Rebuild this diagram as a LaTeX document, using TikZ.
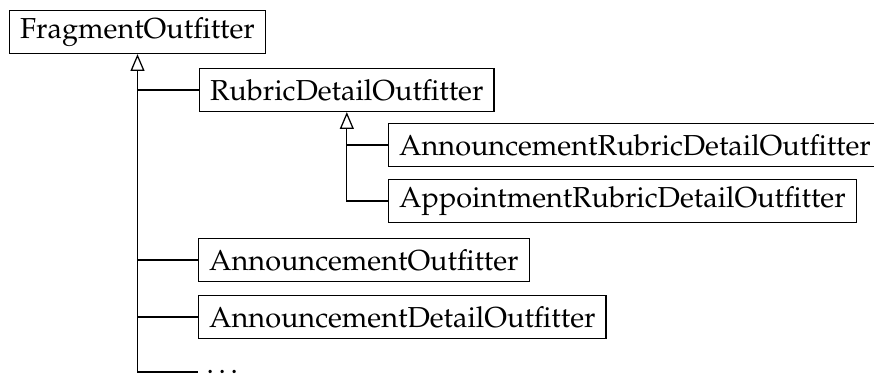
\documentclass[tikz,border=0pt]{standalone}
\usepackage[T1]{fontenc}
\usepackage{mathpazo}
\usetikzlibrary{arrows.meta}
\begin{document}
\begin{tikzpicture}[x=0.36pt,y=-0.36pt,
  box/.style={draw, line width=0.45pt, anchor=west, minimum height=15.5pt, inner xsep=3.8pt, inner ysep=0pt, font=\fontsize{10.4}{12}\selectfont},
  link/.style={line width=0.45pt},
  inh/.style={line width=0.45pt, -{Triangle[open, length=6pt, width=5pt]}}]
\useasboundingbox (0,0) rectangle (874,374);
\node[box] (frag) at (9,32) {FragmentOutfitter};
\node[box] (rubric) at (199,90) {RubricDetailOutfitter};
\node[box] (arub) at (388,145) {AnnouncementRubricDetailOutfitter};
\node[box] (apprub) at (388,201) {AppointmentRubricDetailOutfitter};
\node[box] (ann) at (198,260) {AnnouncementOutfitter};
\node[box] (anndet) at (198,317) {AnnouncementDetailOutfitter};
\node[anchor=west, inner sep=0pt, font=\fontsize{10.4}{12}\selectfont] (dots) at (206,372) {.\,.\,.};
% sub hierarchy
\draw[inh] (apprub.west) -| (rubric.south);
\draw[link] (arub.west) -- (arub.west -| rubric.south);
% main hierarchy
\draw[inh] (dots.west -| ann.west) -| (frag.south);
\draw[link] (rubric.west) -- (rubric.west -| frag.south);
\draw[link] (ann.west) -- (ann.west -| frag.south);
\draw[link] (anndet.west) -- (anndet.west -| frag.south);
\end{tikzpicture}
\end{document}
